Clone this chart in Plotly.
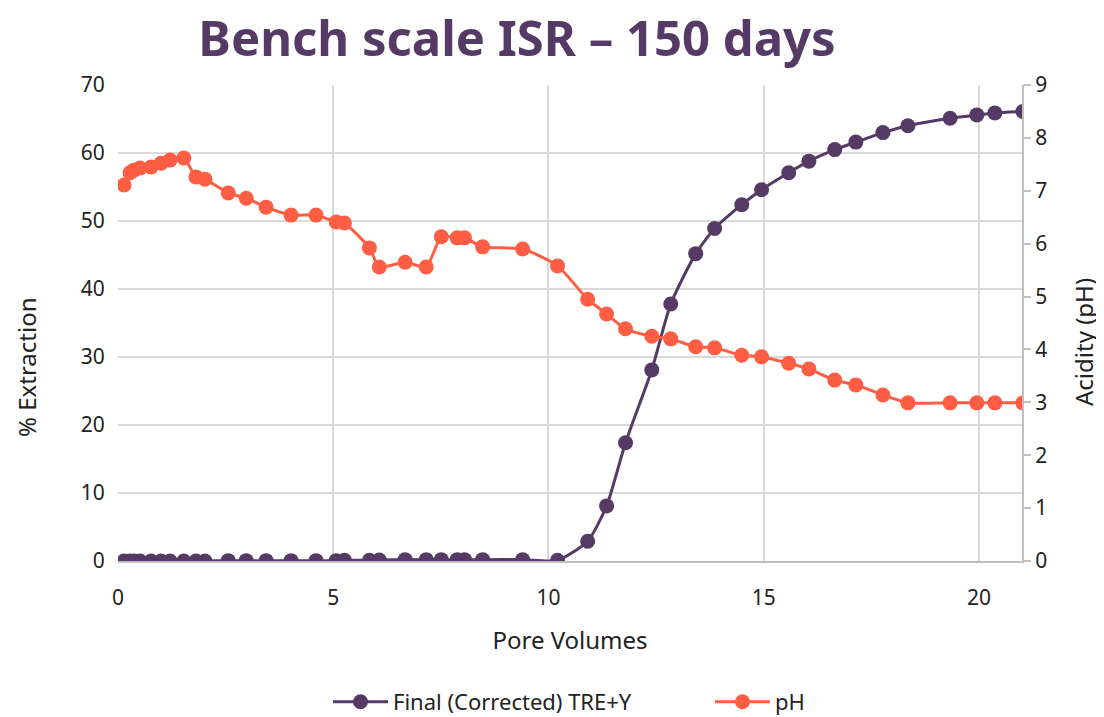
import plotly.graph_objects as go

# pore volumes (shared by both series)
pore_volumes = [0.14, 0.28, 0.37, 0.51, 0.77, 1.0, 1.21, 1.53, 1.81, 2.02,
                2.56, 2.98, 3.44, 4.02, 4.6, 5.07, 5.26, 5.84, 6.07, 6.67,
                7.16, 7.51, 7.88, 8.05, 8.47, 9.4, 10.21, 10.91, 11.35, 11.79,
                12.4, 12.84, 13.42, 13.86, 14.49, 14.95, 15.58, 16.05, 16.65, 17.14,
                17.77, 18.35, 19.33, 19.95, 20.37, 21.02]

# % extraction, Final (Corrected) TRE+Y
extraction = [0.0, 0.0, 0.0, 0.0, 0.0, 0.0, 0.0, 0.0, 0.0, 0.0,
              0.05, 0.05, 0.05, 0.05, 0.05, 0.05, 0.1, 0.1, 0.15, 0.2,
              0.2, 0.2, 0.2, 0.2, 0.2, 0.2, 0.1, 2.9, 8.1, 17.4,
              28.1, 37.8, 45.2, 48.9, 52.4, 54.6, 57.1, 58.8, 60.5, 61.6,
              63.0, 64.0, 65.1, 65.6, 65.9, 66.1]

# acidity
ph = [7.11, 7.34, 7.39, 7.43, 7.45, 7.52, 7.58, 7.62, 7.26, 7.22,
      6.96, 6.86, 6.69, 6.54, 6.54, 6.41, 6.39, 5.92, 5.56, 5.65,
      5.56, 6.13, 6.11, 6.11, 5.94, 5.90, 5.58, 4.95, 4.67, 4.39,
      4.25, 4.20, 4.05, 4.03, 3.89, 3.86, 3.74, 3.63, 3.42, 3.33,
      3.14, 2.99, 2.99, 2.99, 2.99, 2.99]

PURPLE = "#553A66"
ORANGE = "#FF5E44"
FONT = "Noto Sans"

# the page body has an 8px margin, so the figure is 8px smaller than the window
W, H = 1096, 709

fig = go.Figure()
fig.add_trace(go.Scatter(
    x=pore_volumes, y=extraction, name="Final (Corrected) TRE+Y",
    mode="lines+markers", line=dict(color=PURPLE, width=3, shape="spline", smoothing=0.6),
    marker=dict(size=15, color=PURPLE)))
fig.add_trace(go.Scatter(
    x=pore_volumes, y=ph, name="pH", yaxis="y2",
    mode="lines+markers", line=dict(color=ORANGE, width=3, shape="spline", smoothing=0.6),
    marker=dict(size=15, color=ORANGE)))

fig.update_layout(
    width=W, height=H,
    margin=dict(l=110, r=82, t=77, b=156, autoexpand=False),
    plot_bgcolor="white", paper_bgcolor="white",
    font=dict(family=FONT, size=21, color="#222222"),
    title=dict(text="<b>Bench scale ISR – 150 days</b>", x=509 / W, xref="container",
               xanchor="center", y=1 - 31 / H, yanchor="middle",
               font=dict(family=FONT, size=49, color=PURPLE)),
    xaxis=dict(range=[0, 21], dtick=5, showgrid=True, gridcolor="#d9d9d9", gridwidth=2,
               showline=True, linecolor="#bfbfbf", linewidth=2, zeroline=False,
               ticks="outside", ticklen=17, tickcolor="rgba(0,0,0,0)", automargin=False,
               title=dict(text="Pore Volumes", standoff=22, font=dict(size=24))),
    yaxis=dict(range=[0, 70], dtick=10, showgrid=True, gridcolor="#d9d9d9", gridwidth=2,
               zeroline=False, showline=False, ticks="outside", ticklen=8,
               tickcolor="rgba(0,0,0,0)", automargin=False),
    yaxis2=dict(range=[0, 9], dtick=1, overlaying="y", side="right", showgrid=False,
                zeroline=False, showline=True, linecolor="#bfbfbf", linewidth=2,
                ticks="outside", ticklen=7, tickcolor="#bfbfbf", tickwidth=2,
                automargin=False),
    legend=dict(orientation="h", x=(320 - 110) / 904, xanchor="left", yref="container",
                y=1 - 694 / H, yanchor="middle", itemwidth=55,
                entrywidth=312, entrywidthmode="pixels",
                font=dict(size=22)),
    showlegend=True,
)

# y-axis titles sit a little below the plot centre in the reference
fig.add_annotation(text="% Extraction", textangle=-90, xref="paper", yref="paper",
                   x=(18 - 110) / 904, y=(553 - 359) / 476, showarrow=False,
                   xanchor="center", yanchor="middle", font=dict(size=24))
fig.add_annotation(text="Acidity (pH)", textangle=-90, xref="paper", yref="paper",
                   x=(1075 - 110) / 904, y=(553 - 334) / 476, showarrow=False,
                   xanchor="center", yanchor="middle", font=dict(size=24))

fig.write_html("out.html")
